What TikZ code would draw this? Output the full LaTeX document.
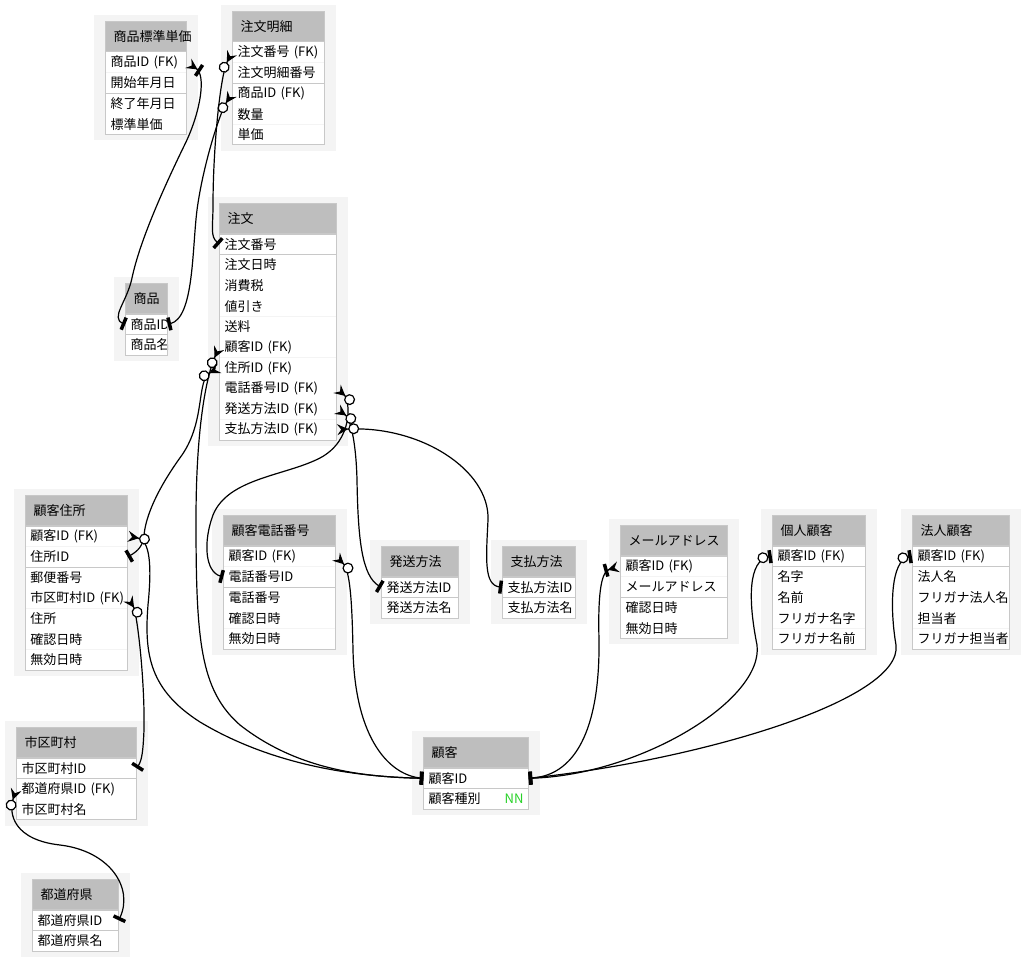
\documentclass[tikz,border=0pt]{standalone}
\usepackage{fontspec}
\setmainfont{Noto Sans CJK JP}
\usepackage{tikz}
\usetikzlibrary{positioning,arrows.meta,fit,backgrounds}
\definecolor{softgrey}{RGB}{244,244,244}
\definecolor{headgrey}{RGB}{190,190,190}
\definecolor{framegrey}{RGB}{200,200,200}
\definecolor{nngreen}{RGB}{40,210,40}

\begin{document}
\begin{tikzpicture}[
    x=1pt, y=-1pt,
    font=\fontsize{13pt}{15pt}\selectfont,
    ehead/.style={
        draw=framegrey,
        fill=headgrey,
        anchor=north west,
        align=left,
        text width=#1-16pt,
        inner xsep=8pt,
        inner ysep=0pt,
        minimum height=30pt,
        line width=1pt
    },
    erow/.style={
        fill=white,
        align=left,
        text width=#1-10pt,
        inner xsep=5pt,
        inner ysep=0pt,
        minimum height=20.2pt
    },
    sect/.style={draw=framegrey, line width=1pt},
    backdrop/.style={fill=softgrey, inner xsep=11pt, inner ysep=6pt},
    rel/.style={line width=1.2pt},
    zeromany/.style={arrows={Stealth[reversed, length=11pt, width=11pt, inset=4pt, sep=0.5pt] Circle[fill=white, length=11pt, line width=1.2pt]}-{Bar[width=13pt, line width=3.5pt]}},
    onemany/.style={arrows={Stealth[reversed, length=11pt, width=11pt, inset=4pt, sep=2pt] Bar[width=13pt, line width=3.5pt]}-{Bar[width=13pt, line width=3.5pt]}},
    zeroone/.style={arrows={Bar[width=13pt, line width=3.5pt, sep=0.5pt] Circle[fill=white, length=11pt, line width=1.2pt]}-{Bar[width=13pt, line width=3.5pt]}}
]
\useasboundingbox (0,0) rectangle (1025,963);

% 商品標準単価
\node[ehead=81pt] (price) at (105,21) {商品標準単価};
\foreach \n/\t [remember=\n as \p (initially price)] in {price-pid/商品ID~(FK), price-start/開始年月日, price-end/終了年月日, price-std/標準単価}
    \node[erow=81pt, below=0pt of \p] (\n) {\t};
\draw[sect] (price-pid.north west) rectangle (price-start.south east)
            (price-end.north west) rectangle (price-std.south east);

% 注文明細
\node[ehead=92pt] (detail) at (232,11) {注文明細};
\foreach \n/\t [remember=\n as \p (initially detail)] in {detail-ono/注文番号~(FK), detail-dno/注文明細番号, detail-pid/商品ID~(FK), detail-qty/数量, detail-unit/単価}
    \node[erow=92pt, below=0pt of \p] (\n) {\t};
\draw[sect] (detail-ono.north west) rectangle (detail-dno.south east)
            (detail-pid.north west) rectangle (detail-unit.south east);

% 注文
\node[ehead=117pt] (order) at (219,203) {注文};
\foreach \n/\t [remember=\n as \p (initially order)] in {order-ono/注文番号, order-date/注文日時, order-tax/消費税, order-disc/値引き, order-fee/送料, order-cid/顧客ID~(FK), order-aid/住所ID~(FK), order-tid/電話番号ID~(FK), order-sid/発送方法ID~(FK), order-payid/支払方法ID~(FK)}
    \node[erow=117pt, below=0pt of \p] (\n) {\t};
\draw[sect] (order-ono.north west) rectangle (order-ono.south east)
            (order-date.north west) rectangle (order-payid.south east);

% 商品
\node[ehead=42pt] (item) at (125,283) {商品};
\foreach \n/\t [remember=\n as \p (initially item)] in {item-pid/商品ID, item-name/商品名}
    \node[erow=42pt, below=0pt of \p] (\n) {\t};
\draw[sect] (item-pid.north west) rectangle (item-pid.south east)
            (item-name.north west) rectangle (item-name.south east);

% 顧客住所
\node[ehead=102pt] (addr) at (25,495) {顧客住所};
\foreach \n/\t [remember=\n as \p (initially addr)] in {addr-cid/顧客ID~(FK), addr-aid/住所ID, addr-zip/郵便番号, addr-city/市区町村ID~(FK), addr-addr/住所, addr-conf/確認日時, addr-inval/無効日時}
    \node[erow=102pt, below=0pt of \p] (\n) {\t};
\draw[sect] (addr-cid.north west) rectangle (addr-aid.south east)
            (addr-zip.north west) rectangle (addr-inval.south east);

% 顧客電話番号
\node[ehead=112pt] (phone) at (223,515) {顧客電話番号};
\foreach \n/\t [remember=\n as \p (initially phone)] in {phone-cid/顧客ID~(FK), phone-tid/電話番号ID, phone-no/電話番号, phone-conf/確認日時, phone-inval/無効日時}
    \node[erow=112pt, below=0pt of \p] (\n) {\t};
\draw[sect] (phone-cid.north west) rectangle (phone-tid.south east)
            (phone-no.north west) rectangle (phone-inval.south east);

% 発送方法
\node[ehead=77pt] (ship) at (381,546) {発送方法};
\foreach \n/\t [remember=\n as \p (initially ship)] in {ship-sid/発送方法ID, ship-name/発送方法名}
    \node[erow=77pt, below=0pt of \p] (\n) {\t};
\draw[sect] (ship-sid.north west) rectangle (ship-sid.south east)
            (ship-name.north west) rectangle (ship-name.south east);

% 支払方法
\node[ehead=73pt] (pay) at (502,546) {支払方法};
\foreach \n/\t [remember=\n as \p (initially pay)] in {pay-id/支払方法ID, pay-name/支払方法名}
    \node[erow=73pt, below=0pt of \p] (\n) {\t};
\draw[sect] (pay-id.north west) rectangle (pay-id.south east)
            (pay-name.north west) rectangle (pay-name.south east);

% メールアドレス
\node[ehead=107pt] (mail) at (620,525) {メールアドレス};
\foreach \n/\t [remember=\n as \p (initially mail)] in {mail-cid/顧客ID~(FK), mail-addr/メールアドレス, mail-conf/確認日時, mail-inval/無効日時}
    \node[erow=107pt, below=0pt of \p] (\n) {\t};
\draw[sect] (mail-cid.north west) rectangle (mail-addr.south east)
            (mail-conf.north west) rectangle (mail-inval.south east);

% 個人顧客
\node[ehead=93pt] (person) at (772,515) {個人顧客};
\foreach \n/\t [remember=\n as \p (initially person)] in {person-cid/顧客ID~(FK), person-last/名字, person-first/名前, person-klast/フリガナ名字, person-kfirst/フリガナ名前}
    \node[erow=93pt, below=0pt of \p] (\n) {\t};
\draw[sect] (person-cid.north west) rectangle (person-cid.south east)
            (person-last.north west) rectangle (person-kfirst.south east);

% 法人顧客
\node[ehead=97pt] (corp) at (912,515) {法人顧客};
\foreach \n/\t [remember=\n as \p (initially corp)] in {corp-cid/顧客ID~(FK), corp-name/法人名, corp-kname/フリガナ法人名, corp-rep/担当者, corp-krep/フリガナ担当者}
    \node[erow=97pt, below=0pt of \p] (\n) {\t};
\draw[sect] (corp-cid.north west) rectangle (corp-cid.south east)
            (corp-name.north west) rectangle (corp-krep.south east);

% 市区町村
\node[ehead=120pt] (city) at (16,727) {市区町村};
\foreach \n/\t [remember=\n as \p (initially city)] in {city-cid/市区町村ID, city-pref/都道府県ID~(FK), city-name/市区町村名}
    \node[erow=120pt, below=0pt of \p] (\n) {\t};
\draw[sect] (city-cid.north west) rectangle (city-cid.south east)
            (city-pref.north west) rectangle (city-name.south east);

% 都道府県
\node[ehead=86pt] (pref) at (32,879) {都道府県};
\foreach \n/\t [remember=\n as \p (initially pref)] in {pref-pid/都道府県ID, pref-name/都道府県名}
    \node[erow=86pt, below=0pt of \p] (\n) {\t};
\draw[sect] (pref-pid.north west) rectangle (pref-pid.south east)
            (pref-name.north west) rectangle (pref-name.south east);

% 顧客
\node[ehead=105pt] (cust) at (423,737) {顧客};
\foreach \n/\t [remember=\n as \p (initially cust)] in {cust-cid/顧客ID, cust-type/顧客種別\hfill\textcolor{nngreen}{NN}}
    \node[erow=105pt, below=0pt of \p] (\n) {\t};
\draw[sect] (cust-cid.north west) rectangle (cust-cid.south east)
            (cust-type.north west) rectangle (cust-type.south east);

% SHADOWS
\begin{scope}[on background layer]
\foreach \a/\b in {price/price-std, detail/detail-unit, order/order-payid, item/item-name, addr/addr-inval, phone/phone-inval, ship/ship-name, pay/pay-name, mail/mail-inval, person/person-kfirst, corp/corp-krep, city/city-name, pref/pref-name, cust/cust-type}
    \node[backdrop, fit=(\a)(\b)] (\a-bg) {};
\end{scope}

% PRODUCT AND ORDER LINES
\draw[rel, onemany] (price-pid.east)
    .. controls (206,75) and (201,110) .. (186,142)
    .. controls (165,185) and (140,240) .. (132,278)
    .. controls (127,302) and (110,318) .. (item-pid.west);
\draw[rel, zeromany] (detail-pid.west)
    .. controls (220,112) and (203,165) .. (197,210)
    .. controls (192,250) and (194,318) .. (item-pid.east);
\draw[rel, zeromany] (detail-ono.west)
    .. controls (220,75) and (213,150) .. (213,205)
    .. controls (213,228) and (210,236) .. (order-ono.west);

% ORDER FOREIGN KEYS
\draw[rel, zeromany] (order-cid.west)
    .. controls (208,372) and (196,420) .. (196,520)
    .. controls (196,640) and (200,690) .. (240,725)
    .. controls (300,772) and (370,777) .. (cust-cid.west);
\draw[rel, zeromany] (order-aid.west)
    .. controls (196,380) and (206,420) .. (182,455)
    .. controls (158,488) and (146,515) .. (144,535)
    .. controls (143,546) and (138,551) .. (addr-aid.east);
\draw[rel, zeromany] (order-tid.east)
    .. controls (350,400) and (354,440) .. (320,458)
    .. controls (285,476) and (228,478) .. (213,515)
    .. controls (203,542) and (205,572) .. (phone-tid.west);
\draw[rel, zeromany] (order-sid.east)
    .. controls (350,418) and (356,440) .. (357,480)
    .. controls (358,540) and (362,576) .. (ship-sid.west);
\draw[rel, zeromany] (order-payid.east)
    .. controls (420,425) and (490,470) .. (488,520)
    .. controls (486,560) and (484,585) .. (pay-id.west);

% ADDRESS LINES
\draw[rel, zeromany] (addr-cid.east)
    .. controls (150,540) and (152,565) .. (148,605)
    .. controls (144,655) and (150,690) .. (200,722)
    .. controls (280,770) and (370,777) .. (cust-cid.west);
\draw[rel, zeromany] (addr-city.east)
    .. controls (137,612) and (145,680) .. (144,730)
    .. controls (143,752) and (142,760) .. (city-cid.east);
\draw[rel, zeromany] (city-pref.west)
    .. controls (8,815) and (15,840) .. (60,845)
    .. controls (110,851) and (134,888) .. (pref-pid.east);

% CUSTOMER LINES
\draw[rel, zeromany] (phone-cid.east)
    .. controls (350,570) and (352,600) .. (353,650)
    .. controls (355,740) and (390,775) .. (cust-cid.west);
\draw[rel, onemany] (mail-cid.west)
    .. controls (600,572) and (598,600) .. (599,640)
    .. controls (600,720) and (580,775) .. (cust-cid.east);
\draw[rel, zeroone] (person-cid.west)
    .. controls (748,560) and (748,600) .. (757,645)
    .. controls (764,700) and (640,775) .. (cust-cid.east);
\draw[rel, zeroone] (corp-cid.west)
    .. controls (890,560) and (890,610) .. (896,645)
    .. controls (903,700) and (700,760) .. (cust-cid.east);

\end{tikzpicture}
\end{document}
